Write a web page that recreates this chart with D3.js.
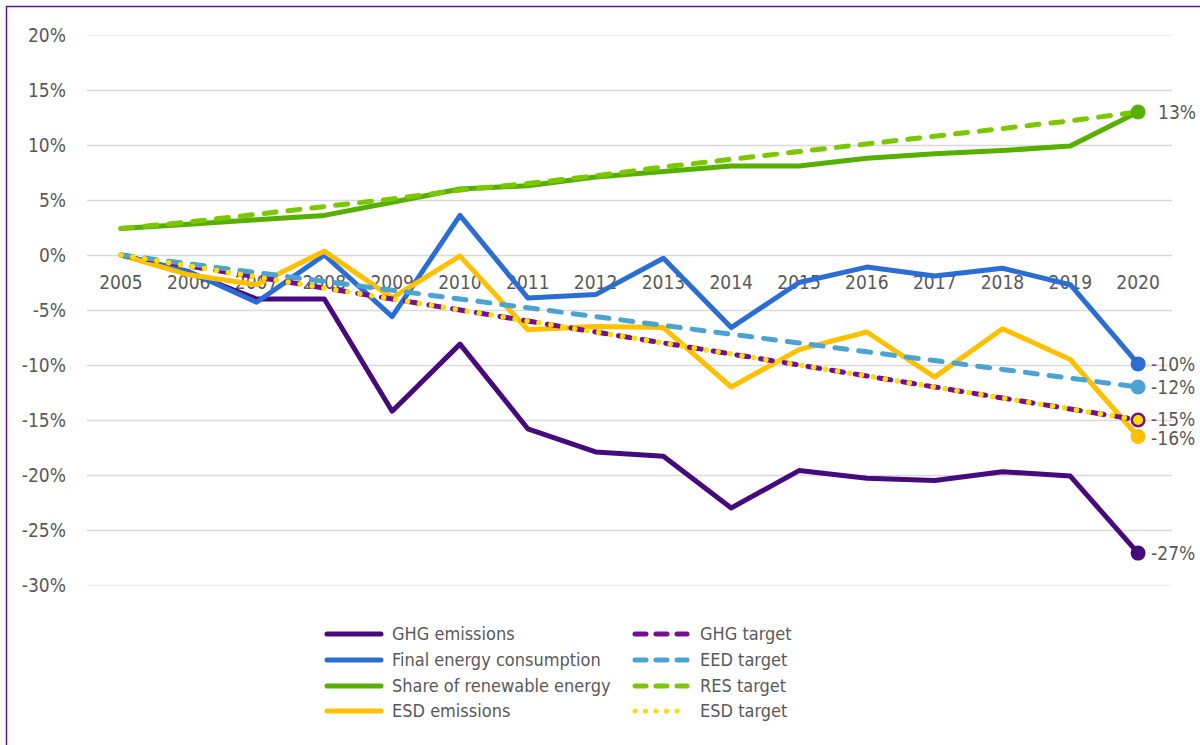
<!DOCTYPE html>
<html>
<head>
<meta charset="utf-8">
<script src="https://cdn.jsdelivr.net/npm/d3@7"></script>
<style>
  body { margin: 0; background: #fff; }
  svg text { font-family: "DejaVu Sans Condensed", "DejaVu Sans", sans-serif; font-stretch: condensed; fill: #595959; }
</style>
</head>
<body>
<div class="chart"></div>
<script>
// data, % change vs 2005
const years = ["2005","2006","2007","2008","2009","2010","2011","2012","2013","2014","2015","2016","2017","2018","2019","2020"]
const yTicks = [20, 15, 10, 5, 0, -5, -10, -15, -20, -25, -30]

const ghgEmissions = [0, -1.6, -4.0, -4.0, -14.2, -8.1, -15.8, -17.9, -18.3, -23.0, -19.6, -20.3, -20.5, -19.7, -20.1, -27.1]
const finalEnergy = [0, -1.5, -4.3, 0.0, -5.6, 3.6, -3.9, -3.6, -0.3, -6.6, -2.5, -1.1, -1.9, -1.2, -2.7, -9.9]
const renewableShare = [2.4, 2.8, 3.2, 3.6, 4.8, 6.0, 6.3, 7.1, 7.6, 8.1, 8.1, 8.8, 9.2, 9.5, 9.9, 13.0]
const esdEmissions = [0, -1.8, -2.7, 0.35, -3.9, -0.1, -6.8, -6.5, -6.6, -12.0, -8.6, -7.0, -11.1, -6.7, -9.5, -16.5]
const ghgTarget = [0, -1, -2, -3, -4, -5, -6, -7, -8, -9, -10, -11, -12, -13, -14, -15]
const eedTarget = [0, -0.8, -1.6, -2.4, -3.2, -4.0, -4.8, -5.6, -6.4, -7.2, -8.0, -8.8, -9.6, -10.4, -11.2, -12.0]
const resTarget = [2.4, 3.0, 3.7, 4.4, 5.1, 5.9, 6.5, 7.2, 8.0, 8.7, 9.4, 10.1, 10.8, 11.5, 12.2, 13.0]
const esdTarget = [0, -1, -2, -3, -4, -5, -6, -7, -8, -9, -10, -11, -12, -13, -14, -15]

const endLabels = [
  {text: "13%", value: 13.0},
  {text: "-10%", value: -9.9},
  {text: "-12%", value: -12.0},
  {text: "-15%", value: -15.0},
  {text: "-16%", value: -16.5},
  {text: "-27%", value: -27.1}
]

const series = [
  {name: "GHG emissions", values: ghgEmissions, color: "#460a7d", dash: null},
  {name: "Final energy consumption", values: finalEnergy, color: "#2a6dd5", dash: null},
  {name: "Share of renewable energy", values: renewableShare, color: "#55b000", dash: null},
  {name: "ESD emissions", values: esdEmissions, color: "#ffc000", dash: null},
  {name: "GHG target", values: ghgTarget, color: "#740f94", dash: "12,12"},
  {name: "EED target", values: eedTarget, color: "#4aa3d3", dash: "12,12"},
  {name: "RES target", values: resTarget, color: "#7cc800", dash: "12,12"},
  {name: "ESD target", values: esdTarget, color: "#ffdd00", dash: "0.1,12"}
]

const W = 1200, H = 745
const plot = {left: 87, right: 1172, top: 35, bottom: 585}

const svg = d3.select(".chart").append("svg")
  .attr("width", W).attr("height", H)

// outer frame
svg.append("path")
  .attr("d", `M6.5,${H} V6.5 H${W}`)
  .attr("fill", "none")
  .attr("stroke", "#6010a8")
  .attr("stroke-width", 1.5)

let x = d3.scalePoint()
  .domain(years)
  .range([plot.left, plot.right])
  .padding(0.5)

let y = d3.scaleLinear()
  .domain([-30, 20])
  .range([plot.bottom, plot.top])

// gridlines
svg.append("g")
  .selectAll("line")
  .data(yTicks)
  .join("line")
    .attr("x1", plot.left)
    .attr("x2", plot.right)
    .attr("y1", d => Math.round(y(d)) + 0.5)
    .attr("y2", d => Math.round(y(d)) + 0.5)
    .attr("stroke", d => (d === 20 || d === -30) ? "#eeeeee" : "#d9d9d9")
    .attr("stroke-width", 1.5)

// y axis labels
svg.append("g")
    .attr("text-anchor", "end")
    .attr("font-size", 19)
  .selectAll("text")
  .data(yTicks)
  .join("text")
    .attr("x", 66)
    .attr("y", d => y(d))
    .attr("dy", "0.35em")
    .text(d => d + "%")

// x axis labels, sitting just under the 0% line
svg.append("g")
    .attr("text-anchor", "middle")
    .attr("font-size", 19)
  .selectAll("text")
  .data(years)
  .join("text")
    .attr("x", d => x(d))
    .attr("y", y(0) + 34)
    .text(d => d)

const line = d3.line()
  .x((d, i) => x(years[i]))
  .y(d => y(d))

svg.append("g")
    .attr("fill", "none")
    .attr("stroke-linecap", "round")
    .attr("stroke-linejoin", "round")
  .selectAll("path")
  .data(series)
  .join("path")
    .attr("d", d => line(d.values))
    .attr("stroke", d => d.color)
    .attr("stroke-width", d => d.name === "ESD target" ? 5.5 : 5)
    .attr("stroke-dasharray", d => d.dash)

// end markers
const last = years.length - 1
const markers = [
  {s: series[0], r: 7.5},
  {s: series[1], r: 7.5},
  {s: series[2], r: 7.5},
  {s: series[3], r: 7.5},
  {s: series[5], r: 7.5},
  {s: series[4], r: 7.5},
  {s: series[7], r: 5}
]
svg.append("g")
  .selectAll("circle")
  .data(markers)
  .join("circle")
    .attr("cx", x(years[last]))
    .attr("cy", d => y(d.s.values[last]))
    .attr("r", d => d.r)
    .attr("fill", d => d.s.color)

svg.append("g")
    .attr("font-size", 19)
  .selectAll("text")
  .data(endLabels)
  .join("text")
    .attr("x", d => x(years[last]) + (d.value > 0 ? 20 : 13))
    .attr("y", d => y(d.value) + (d.text === "-15%" ? -1 : d.text === "-16%" ? 2 : 0))
    .attr("dy", "0.35em")
    .text(d => d.text)

// legend
const legend = svg.append("g")
const legRows = [634, 660, 686, 711]
series.forEach((s, i) => {
  const col = i < 4 ? 0 : 1
  const row = i % 4
  const lx = col === 0 ? 327 : 635
  const lw = col === 0 ? 54 : 52
  const g = legend.append("g").attr("transform", `translate(${lx},${legRows[row]})`)
  g.append("line")
    .attr("x1", 0).attr("x2", lw)
    .attr("stroke", s.color)
    .attr("stroke-width", s.name === "ESD target" ? 5 : 5)
    .attr("stroke-linecap", "round")
    .attr("stroke-dasharray", s.name === "ESD target" ? "0.1,10.4" : (s.dash ? "11,10" : null))
  g.append("text")
    .attr("x", 65)
    .attr("dy", "0.35em")
    .attr("font-size", 18)
    .text(s.name)
})
</script>
</body>
</html>
